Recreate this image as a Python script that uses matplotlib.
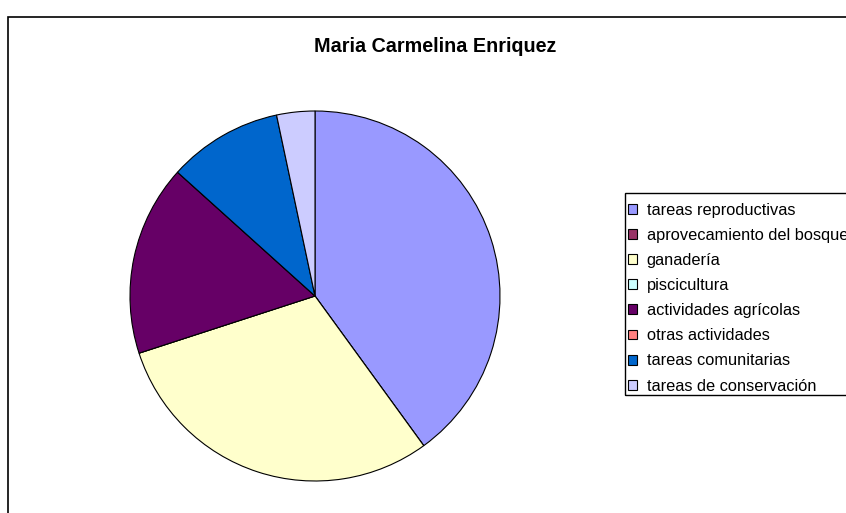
import matplotlib
matplotlib.use("Agg")
import matplotlib.pyplot as plt
from matplotlib.patches import Rectangle

# data (hours)
labels = [
    "tareas reproductivas",
    "aprovecamiento del bosque",
    "ganadería",
    "piscicultura",
    "actividades agrícolas",
    "otras actividades",
    "tareas comunitarias",
    "tareas de conservación",
]
values = [12, 0, 9, 0, 5, 0, 3, 1]
colors = ["#9999FF", "#993366", "#FFFFCC", "#CCFFFF",
          "#660066", "#FF8080", "#0066CC", "#CCCCFF"]

plt.rcParams["font.family"] = ["Liberation Sans", "DejaVu Sans"]

W, H = 846, 513
fig = plt.figure(figsize=(W/100, H/100), dpi=100)

# outer chart frame (runs off right/bottom edge like the screenshot)
fig.patches.append(Rectangle((8/W, -0.5), 2.0, 1 - 17/H + 0.5,
                             transform=fig.transFigure, fill=False,
                             edgecolor="black", lw=1.2))

fig.text(435/W, 1 - 47/H, "Maria Carmelina Enriquez", ha="center", va="center",
         fontsize=14.2, fontweight="bold")

cx, cy, r = 315, 296, 185
ax = fig.add_axes([(cx - r)/W, (H - cy - r)/H, 2*r/W, 2*r/H])
wedges, _ = ax.pie(values, colors=colors, startangle=90, counterclock=False,
                   wedgeprops=dict(edgecolor="black", linewidth=0.8))
ax.set_aspect("equal")
ax.set_xlim(-1, 1)
ax.set_ylim(-1, 1)

# legend box drawn separately (its padding is uneven in the original)
fig.patches.append(Rectangle((625/W, 1 - 395/H), 1.0, 202/H,
                             transform=fig.transFigure, fill=False,
                             edgecolor="black", lw=1.0))
leg = fig.legend(wedges, labels, loc="upper left",
                 bbox_to_anchor=(628/W, 1 - 202.5/H),
                 fontsize=11.8, frameon=False,
                 handlelength=0.55, handleheight=0.55, handletextpad=0.6,
                 labelspacing=0.62, borderpad=0, borderaxespad=0)
for h in leg.legend_handles:
    h.set_linewidth(0.8)

fig.savefig("out.png", dpi=100)
